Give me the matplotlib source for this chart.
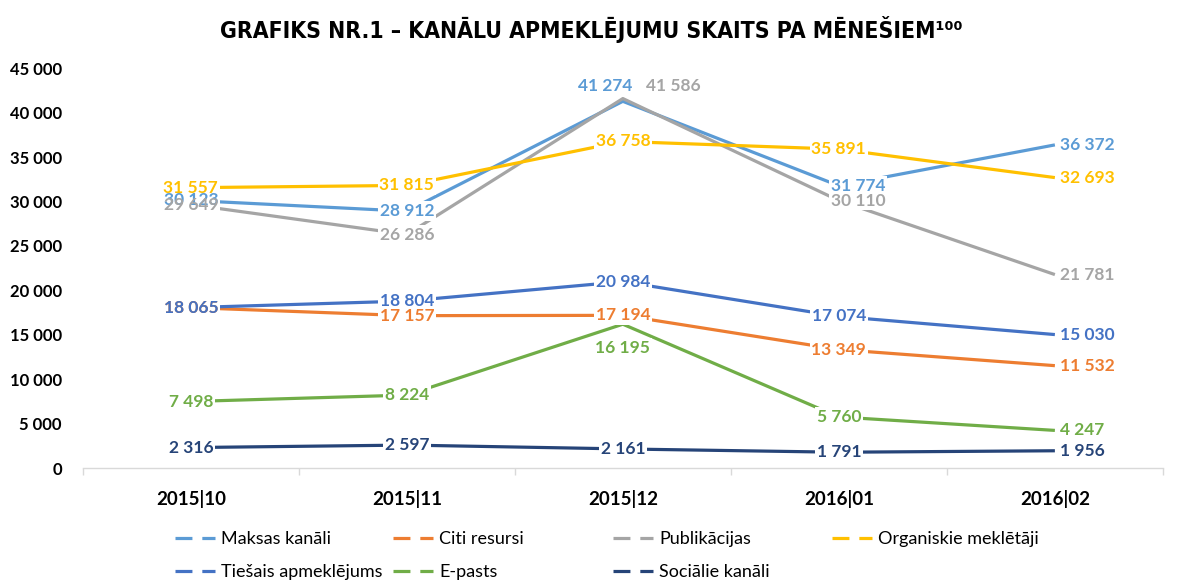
import matplotlib.pyplot as plt
from matplotlib.lines import Line2D

# data
months = ['2015|10', '2015|11', '2015|12', '2016|01', '2016|02']
maksas = [30123, 28912, 41274, 31774, 36372]
citi = [18065, 17157, 17194, 13349, 11532]
publikacijas = [29649, 26286, 41586, 30110, 21781]
organiskie = [31557, 31815, 36758, 35891, 32693]
tiesais = [18065, 18804, 20984, 17074, 15030]
epasts = [7498, 8224, 16195, 5760, 4247]
socialie = [2316, 2597, 2161, 1791, 1956]

series = [
    ('Maksas kanāli', maksas, '#5B9BD5'),
    ('Citi resursi', citi, '#ED7D31'),
    ('Publikācijas', publikacijas, '#A5A5A5'),
    ('Organiskie meklētāji', organiskie, '#FFC000'),
    ('Tiešais apmeklējums', tiesais, '#4472C4'),
    ('E-pasts', epasts, '#70AD47'),
    ('Sociālie kanāli', socialie, '#264478'),
]

# label offsets in points (dx, dy) where excel moved them
offsets = {
    ('Maksas kanāli', 2): (-13, 11),
    ('Publikācijas', 2): (36, 9),
    ('Maksas kanāli', 3): (14, 0),
    ('Publikācijas', 3): (14, 0),
    ('E-pasts', 2): (0, -17),
}

label_font = 'Lato'
narrow = 'DejaVu Sans'

fig = plt.figure(figsize=(11.83, 5.83), dpi=100)
ax = fig.add_axes([0.070, 0.197, 0.913, 0.686])

x = list(range(len(months)))
for name, vals, col in series:
    ax.plot(x, vals, color=col, lw=2.3, zorder=2, solid_capstyle='butt')

# white boxes behind labels first, then text on top
for layer in (0, 1):
    for name, vals, col in series:
        for i, v in enumerate(vals):
            dx, dy = offsets.get((name, i), (0, 0))
            ha = 'center'
            if i == 4:
                dx, ha = 4, 'left'
            kw = dict(fontsize=12.5, fontweight='bold', family=label_font,
                      ha=ha, va='center', textcoords='offset points')
            txt = f'{v:,}'.replace(',', ' ')
            if layer == 0:
                ax.annotate(txt, (i, v), xytext=(dx, dy), color='white', zorder=3,
                            bbox=dict(boxstyle='square,pad=0.1', fc='white', ec='none'), **kw)
            else:
                ax.annotate(txt, (i, v), xytext=(dx, dy), color=col, zorder=4, **kw)

ax.set_xlim(-0.5, 4.5)
ax.set_ylim(0, 45000)
ax.set_yticks(range(0, 45001, 5000))
ax.set_yticklabels([f'{t:,}'.replace(',', ' ') for t in range(0, 45001, 5000)],
                   fontsize=12, fontweight='bold', family=label_font)
ax.set_xticks(x)
ax.set_xticklabels(months, fontsize=13.5, fontweight='bold', family=label_font)
ax.set_xticks([i - 0.5 for i in range(6)], minor=True)
ax.tick_params(axis='x', which='major', length=0, pad=16)
ax.tick_params(axis='x', which='minor', length=5, color='#D9D9D9', width=1)
ax.tick_params(axis='y', length=0, pad=15)
for s in ['top', 'right', 'left']:
    ax.spines[s].set_visible(False)
ax.spines['bottom'].set_color('#D9D9D9')
ax.spines['bottom'].set_linewidth(1)

fig.text(0.5, 0.95, 'GRAFIKS NR.1 – KANĀLU APMEKLĒJUMU SKAITS PA MĒNEŠIEM¹⁰⁰',
         ha='center', va='center', fontsize=16.5, fontweight='bold', family=narrow,
         fontstretch='condensed')

# legend: excel uses fixed-width columns, so one legend per column
handles = {name: Line2D([], [], color=col, lw=2.3, linestyle=(0, (5.3, 3.1)))
           for name, vals, col in series}
columns = [['Maksas kanāli', 'Tiešais apmeklējums'],
           ['Citi resursi', 'E-pasts'],
           ['Publikācijas', 'Sociālie kanāli'],
           ['Organiskie meklētāji']]
col_x = [175, 393, 613, 832]
for names, cx in zip(columns, col_x):
    fig.legend([handles[n] for n in names], names, loc='upper left',
               bbox_to_anchor=(cx / 1183, 1 - 531 / 583), frameon=False,
               prop={'family': label_font, 'size': 13},
               handlelength=2.2, handletextpad=0.35, labelspacing=0.95,
               borderpad=0, borderaxespad=0)

fig.savefig('out.png', dpi=100)
